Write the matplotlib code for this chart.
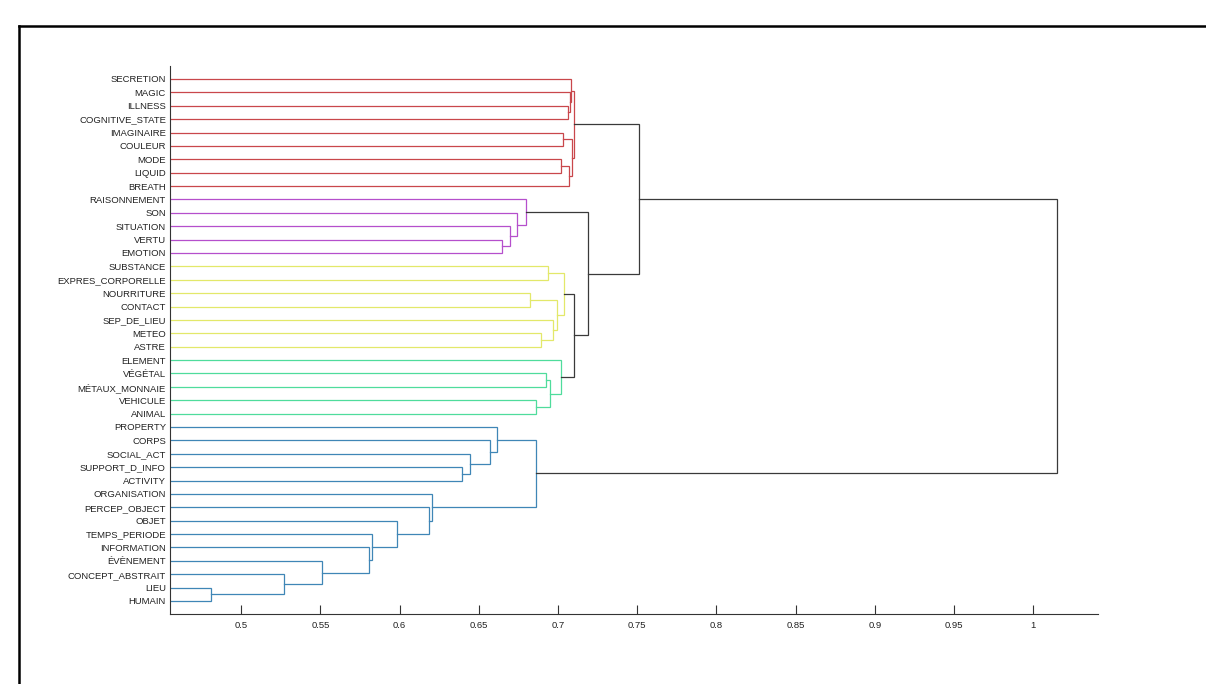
import matplotlib
matplotlib.use("Agg")
import matplotlib.pyplot as plt
from matplotlib.lines import Line2D

plt.rcParams['font.family'] = ['Liberation Sans', 'DejaVu Sans']

# leaves, top to bottom as they appear on the chart
leaves = ["SECRETION", "MAGIC", "ILLNESS", "COGNITIVE_STATE", "IMAGINAIRE",
          "COULEUR", "MODE", "LIQUID", "BREATH",
          "RAISONNEMENT", "SON", "SITUATION", "VERTU", "EMOTION",
          "SUBSTANCE", "EXPRES_CORPORELLE", "NOURRITURE", "CONTACT",
          "SEP_DE_LIEU", "METEO", "ASTRE",
          "ELEMENT", "VÉGÉTAL", "MÉTAUX_MONNAIE", "VEHICULE", "ANIMAL",
          "PROPERTY", "CORPS", "SOCIAL_ACT", "SUPPORT_D_INFO", "ACTIVITY",
          "ORGANISATION", "PERCEP_OBJECT", "OBJET", "TEMPS_PERIODE",
          "INFORMATION", "ÉVÈNEMENT", "CONCEPT_ABSTRAIT", "LIEU", "HUMAIN"]

# colour group sizes (in leaf order) for the coloured clusters
group_sizes = [9, 5, 7, 5, 14]
group_colors = ["#c9474b", "#b54fcc", "#e3e86a", "#4fdc9c", "#3f86b6"]

# merges: (left, right, height); str = leaf, int = earlier merge index
merges = [
    ("LIEU", "HUMAIN", 0.481),                 # 0
    ("CONCEPT_ABSTRAIT", 0, 0.527),            # 1
    ("ÉVÈNEMENT", 1, 0.551),                   # 2
    ("INFORMATION", 2, 0.5807),                # 3
    ("TEMPS_PERIODE", 3, 0.5824),              # 4
    ("OBJET", 4, 0.598),                       # 5
    ("PERCEP_OBJECT", 5, 0.6186),              # 6
    ("ORGANISATION", 6, 0.6205),               # 7
    ("SUPPORT_D_INFO", "ACTIVITY", 0.6393),    # 8
    ("SOCIAL_ACT", 8, 0.6445),                 # 9
    ("CORPS", 9, 0.6572),                      # 10
    ("PROPERTY", 10, 0.6616),                  # 11
    (11, 7, 0.6863),                           # 12
    ("VERTU", "EMOTION", 0.6645),              # 13
    ("SITUATION", 13, 0.6695),                 # 14
    ("SON", 14, 0.6738),                       # 15
    ("RAISONNEMENT", 15, 0.6798),              # 16
    ("SUBSTANCE", "EXPRES_CORPORELLE", 0.6936),  # 17
    ("NOURRITURE", "CONTACT", 0.6823),         # 18
    ("METEO", "ASTRE", 0.6895),                # 19
    ("SEP_DE_LIEU", 19, 0.6968),               # 20
    (18, 20, 0.6991),                          # 21
    (17, 21, 0.7040),                          # 22
    ("VÉGÉTAL", "MÉTAUX_MONNAIE", 0.6926),     # 23
    ("VEHICULE", "ANIMAL", 0.6862),            # 24
    (23, 24, 0.6949),                          # 25
    ("ELEMENT", 25, 0.7017),                   # 26
    (22, 26, 0.7101),                          # 27
    (16, 27, 0.7189),                          # 28
    ("ILLNESS", "COGNITIVE_STATE", 0.7063),    # 29
    ("MAGIC", 29, 0.7075),                     # 30
    ("SECRETION", 30, 0.7083),                 # 31
    ("IMAGINAIRE", "COULEUR", 0.7034),         # 32
    ("MODE", "LIQUID", 0.7021),                # 33
    (33, "BREATH", 0.7067),                    # 34
    (32, 34, 0.7085),                          # 35
    (31, 35, 0.7101),                          # 36
    (36, 28, 0.7509),                          # 37
    (37, 12, 1.015),                           # 38
]

xticks = [0.5, 0.55, 0.6, 0.65, 0.7, 0.75, 0.8, 0.85, 0.9, 0.95, 1.0]
xticklabels = ["0.5", "0.55", "0.6", "0.65", "0.7", "0.75", "0.8", "0.85",
               "0.9", "0.95", "1"]

n = len(leaves)
leaf_y = {name: n - i for i, name in enumerate(leaves)}
leaf_group = {}
k = 0
for g, size in enumerate(group_sizes):
    for name in leaves[k:k + size]:
        leaf_group[name] = g
    k += size

fig = plt.figure(figsize=(12.06, 6.84), dpi=100)
ax = fig.add_axes([0.1410, 0.1018, 0.7695, 0.8023])

node_y, node_h, node_g = [], [], []


def info(node):
    # returns y position, height, colour group of a node
    if isinstance(node, str):
        return leaf_y[node], 0.0, leaf_group[node]
    return node_y[node], node_h[node], node_g[node]


for a, b, h in merges:
    ya, ha, ga = info(a)
    yb, hb, gb = info(b)
    g = ga if ga == gb else None
    color = group_colors[g] if g is not None else "#3a3a3a"
    ax.plot([ha, h, h, hb], [ya, ya, yb, yb], color=color, lw=0.9,
            solid_joinstyle="miter")
    node_y.append((ya + yb) / 2)
    node_h.append(h)
    node_g.append(g)

ax.set_xlim(0.455, 1.041)
ax.set_ylim(0, n + 1)
ax.set_yticks([leaf_y[name] for name in leaves])
ax.set_yticklabels(leaves, fontsize=6.8, color="#222222")
ax.tick_params(axis="y", length=0, pad=3)
ax.set_xticks(xticks)
ax.set_xticklabels(xticklabels, fontsize=6.8, color="#222222")
ax.tick_params(axis="x", direction="in", length=6.3, width=0.8,
               color="#333333", pad=4.5)
for side in ["top", "right"]:
    ax.spines[side].set_visible(False)
for side in ["left", "bottom"]:
    ax.spines[side].set_linewidth(0.8)
    ax.spines[side].set_color("#333333")

# black frame lines along the top and left of the picture
fig.add_artist(Line2D([0.0158, 0.0158], [0.0, 0.962], color="black", lw=1.8))
fig.add_artist(Line2D([0.0158, 1.0], [0.962, 0.962], color="black", lw=1.8))

fig.savefig("out.png", dpi=100)
